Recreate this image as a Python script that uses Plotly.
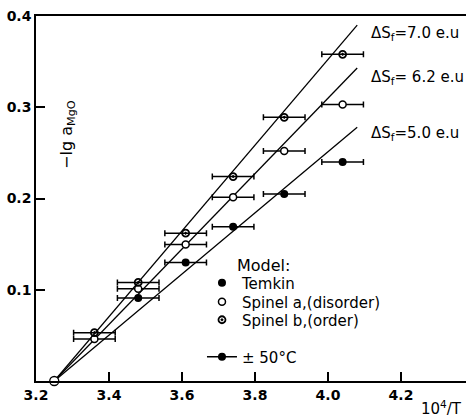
import plotly.graph_objects as go

# ---- data ----
x_vals = [3.36, 3.48, 3.61, 3.74, 3.88, 4.04]
spinel_b_y = [0.053, 0.108, 0.162, 0.224, 0.289, 0.358]   # top line, dS=7.0
spinel_a_y = [0.046, 0.101, 0.1495, 0.2015, 0.252, 0.303]  # middle line, dS=6.2
temkin_x = [3.48, 3.61, 3.74, 3.88, 4.04]
temkin_y = [0.091, 0.130, 0.169, 0.205, 0.240]           # bottom line, dS=5.0
x_err = 0.057

origin_x = [3.25]
origin_y = [0.0]

fit_x = [3.25, 4.08]
fit_top_y = [0.0, 0.390]
fit_mid_y = [0.0, 0.343]
fit_low_y = [0.0, 0.278]

line_labels = ["ΔS<sub>f</sub>=7.0 e.u", "ΔS<sub>f</sub>= 6.2 e.u", "ΔS<sub>f</sub>=5.0 e.u"]
label_x = 4.112
label_y = [0.381, 0.333, 0.271]

x_ticks = [3.2, 3.4, 3.6, 3.8, 4.0, 4.2]
y_ticks = [0.1, 0.2, 0.3, 0.4]

FONT = "DejaVu Sans"
BLACK = "black"

fig = go.Figure()

for fy in (fit_top_y, fit_mid_y, fit_low_y):
    fig.add_trace(go.Scatter(x=fit_x, y=fy, mode="lines", showlegend=False,
                             line=dict(color=BLACK, width=1.3), hoverinfo="skip"))

err = dict(type="constant", value=x_err, color=BLACK, thickness=1.5, width=3)

fig.add_trace(go.Scatter(x=temkin_x, y=temkin_y, mode="markers", name="Temkin",
                         error_x=err, marker=dict(symbol="circle", size=8, color=BLACK),
                         legend="legend"))
fig.add_trace(go.Scatter(x=x_vals, y=spinel_a_y, mode="markers", name="Spinel a,(disorder)",
                         error_x=err,
                         marker=dict(symbol="circle", size=7, color="white",
                                     line=dict(color=BLACK, width=1.5)),
                         legend="legend3"))
fig.add_trace(go.Scatter(x=x_vals, y=spinel_b_y, mode="markers", name="Spinel b,(order)",
                         error_x=err,
                         marker=dict(symbol="circle-open-dot", size=7, color=BLACK,
                                     line=dict(color=BLACK, width=1.8)),
                         legend="legend4"))
fig.add_trace(go.Scatter(x=origin_x, y=origin_y, mode="markers", showlegend=False,
                         cliponaxis=False,
                         marker=dict(symbol="circle", size=9, color="white",
                                     line=dict(color=BLACK, width=1.3))))
# legend key for the error bar
fig.add_trace(go.Scatter(x=[None], y=[None], mode="lines+markers", name="± 50°C",
                         line=dict(color=BLACK, width=1.5),
                         marker=dict(symbol="circle", size=8, color=BLACK),
                         legend="legend2"))

annotations = []
for t, ly in zip(line_labels, label_y):
    annotations.append(dict(x=label_x, y=ly, xref="x", yref="y", text=t, showarrow=False,
                            xanchor="left", yanchor="middle",
                            font=dict(family=FONT, size=15, color=BLACK)))
annotations.append(dict(x=0.0744, y=0.677, xref="paper", yref="paper",
                        text="−lg a<sub>MgO</sub>", textangle=-90, showarrow=False,
                        xanchor="center", yanchor="middle",
                        font=dict(family=FONT, size=16, color=BLACK)))
annotations.append(dict(x=0.995, y=-0.074, xref="paper", yref="paper",
                        text="10<sup>4</sup>/T", showarrow=False,
                        xanchor="right", yanchor="middle",
                        font=dict(family=FONT, size=15, color=BLACK)))
annotations.append(dict(x=0.4627, y=0.316, xref="paper", yref="paper",
                        text="Model:", showarrow=False,
                        xanchor="left", yanchor="middle",
                        font=dict(family=FONT, size=16, color=BLACK)))

LEG_X = 0.386


def leg(y):
    return dict(x=LEG_X, y=y, xanchor="left", yanchor="middle",
                bgcolor="rgba(0,0,0,0)", font=dict(family=FONT, size=15, color=BLACK),
                itemclick=False, itemdoubleclick=False)


fig.update_layout(
    width=466, height=419,
    margin=dict(l=36, r=0, t=16, b=38, autoexpand=False),
    paper_bgcolor="white", plot_bgcolor="white",
    font=dict(family=FONT, size=14, color=BLACK),
    annotations=annotations,
    legend=leg(0.2685),
    legend3=leg(0.2164),
    legend4=leg(0.1671),
    legend2=leg(0.0658),
    xaxis=dict(range=[3.2, 4.378], tickvals=x_ticks, ticktext=[f"{v:.1f}" for v in x_ticks],
               ticks="inside", ticklen=9, tickwidth=1.5, tickcolor=BLACK,
               showline=True, linecolor=BLACK, linewidth=1.5, mirror=True,
               showgrid=False, zeroline=False, automargin=False,
               tickfont=dict(family=FONT, size=14, color=BLACK, weight="bold")),
    yaxis=dict(range=[0, 0.4], tickvals=y_ticks, ticktext=[f"{v:.1f}" for v in y_ticks],
               ticks="inside", ticklen=9, tickwidth=1.5, tickcolor=BLACK,
               showline=True, linecolor=BLACK, linewidth=1.5,
               showgrid=False, zeroline=False, automargin=False,
               tickfont=dict(family=FONT, size=14, color=BLACK, weight="bold")),
)

fig.write_html("out.html", config={"displayModeBar": False},
               post_script="document.body.style.margin='0';")
